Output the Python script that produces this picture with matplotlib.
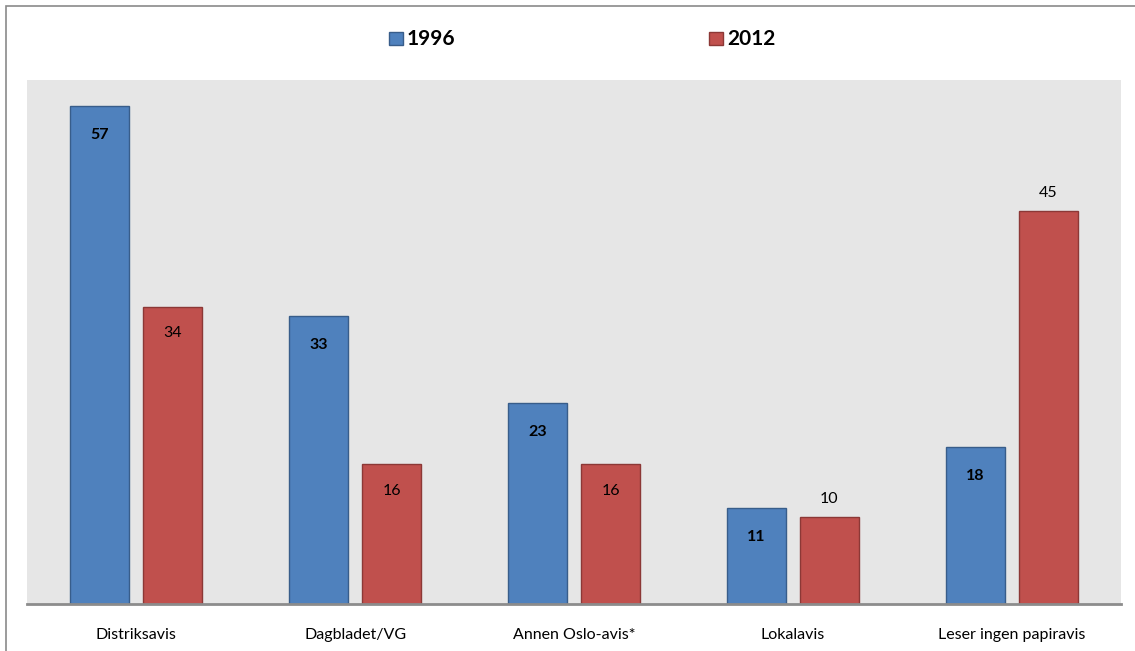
import matplotlib.pyplot as plt
from matplotlib.patches import Rectangle
import numpy as np

categories = ["Distriksavis", "Dagbladet/VG", "Annen Oslo-avis*", "Lokalavis",
              "Leser ingen papiravis"]
years = ["1996", "2012"]
values_1996 = [57, 33, 23, 11, 18]
values_2012 = [34, 16, 16, 10, 45]

plt.rcParams['font.family'] = ['Lato', 'DejaVu Sans']

W, H = 1135, 651
fig = plt.figure(figsize=(W / 100, H / 100), dpi=100)

# outer frame, runs off the right and bottom edges
fig.patches.append(Rectangle((6 / W, -0.1), 1.2, 1 - 6 / H + 0.1,
                             transform=fig.transFigure, fill=False,
                             edgecolor="#8a8a8a", linewidth=1.2))

ax = fig.add_axes([27 / W, 1 - 604 / H, (1121 - 27) / W, (604 - 80) / H])
ax.set_facecolor("#e6e6e6")

x = np.arange(len(categories))
width = 0.27
off = 0.167
ax.bar(x - off, values_1996, width, color="#4f81bd", edgecolor="#385d8a",
       linewidth=1, label=years[0])
ax.bar(x + off, values_2012, width, color="#c0504d", edgecolor="#8c3836",
       linewidth=1, label=years[1])

ax.set_xlim(-0.5, len(categories) - 0.5)
ax.set_ylim(0, 60)
ax.set_yticks([])
ax.set_xticks(x)
ax.set_xticklabels(categories, fontsize=11.5)
ax.tick_params(axis="x", length=0, pad=17)
for s in ["top", "right", "left"]:
    ax.spines[s].set_visible(False)
ax.spines["bottom"].set_color("#8c8c8c")
ax.spines["bottom"].set_linewidth(2)

# value labels: 1996 bold inside bars, 2012 inside or above short/tall ones
for xi, v in zip(x, values_1996):
    ax.annotate(str(v), (xi - off, v), xytext=(0, -21), textcoords="offset points",
                ha="center", va="center", fontsize=11.5, fontweight="bold")
for xi, v in zip(x, values_2012):
    if v in (10, 45):
        dy = 13
    else:
        dy = -19
    ax.annotate(str(v), (xi + off, v), xytext=(0, dy), textcoords="offset points",
                ha="center", va="center", fontsize=11.5)

# legend entries placed separately across the top
for (px, label, fc, ec) in [(389, years[0], "#4f81bd", "#385d8a"),
                            (709, years[1], "#c0504d", "#8c3836")]:
    fig.patches.append(Rectangle((px / W, 1 - 45 / H), 14 / W, 13 / H,
                                 transform=fig.transFigure, facecolor=fc,
                                 edgecolor=ec, linewidth=1))
    fig.text((px + 18) / W, 1 - 39 / H, label, fontsize=15, fontweight="bold",
             ha="left", va="center")

fig.savefig("out.png", dpi=100)
